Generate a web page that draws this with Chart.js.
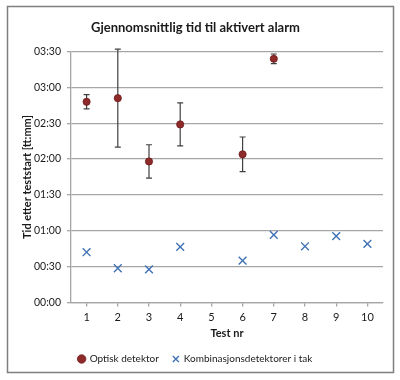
<!DOCTYPE html>
<html>
<head>
<meta charset="utf-8">
<script src="https://cdn.jsdelivr.net/npm/chart.js@4.4.1/dist/chart.umd.min.js"></script>
<style>
html,body{margin:0;padding:0;background:#fff;}
#wrap{width:400px;height:380px;position:relative;}
</style>
</head>
<body>
<div id="wrap"><canvas id="c" width="400" height="380"></canvas></div>
<script>
// Data (seconds since test start)
const categories = ['1','2','3','4','5','6','7','8','9','10'];
const optiskValues = [168, 171, 118, 149, null, 124, 204, null, null, null];
const optiskError  = [6, 41, 14, 18, null, 14.5, 4, null, null, null];
const kombiValues  = [42, 28.6, 27.7, 46.5, null, 35, 56.6, 47, 55.5, 49];
const yTicks = [0, 30, 60, 90, 120, 150, 180, 210];

const FONT = 'Lato, "Open Sans", sans-serif';

function fmt(v){
  const m = Math.floor(v/60), s = Math.round(v%60);
  return String(m).padStart(2,'0') + ':' + String(s).padStart(2,'0');
}

const errorBars = {
  id: 'errorBars',
  beforeDatasetsDraw(chart){
    const ctx = chart.ctx;
    const meta = chart.getDatasetMeta(0);
    const ys = chart.scales.y;
    ctx.save();
    ctx.strokeStyle = '#404040';
    ctx.lineWidth = 1.2;
    meta.data.forEach((pt, i) => {
      const v = optiskValues[i], e = optiskError[i];
      if (v == null || e == null) return;
      const x = pt.x;
      const yT = ys.getPixelForValue(v + e);
      const yB = ys.getPixelForValue(v - e);
      ctx.beginPath();
      ctx.moveTo(x, yT); ctx.lineTo(x, yB);
      ctx.moveTo(x-3, yT); ctx.lineTo(x+3, yT);
      ctx.moveTo(x-3, yB); ctx.lineTo(x+3, yB);
      ctx.stroke();
    });
    ctx.restore();
  }
};

const frame = {
  id: 'frame',
  afterDraw(chart){
    const ctx = chart.ctx;
    ctx.save();
    ctx.strokeStyle = '#7f7f7f';
    ctx.lineWidth = 1.5;
    ctx.strokeRect(7.5, 6.5, 386, 366);
    ctx.restore();
  }
};

new Chart(document.getElementById('c'), {
  type: 'line',
  data: {
    labels: categories,
    datasets: [
      {
        label: 'Optisk detektor',
        data: optiskValues,
        showLine: false,
        pointStyle: 'circle',
        pointRadius: 3.6,
        backgroundColor: '#8e2a2a',
        borderColor: '#6e1c1c',
        pointBorderWidth: 0.8
      },
      {
        label: 'Kombinasjonsdetektorer i tak',
        data: kombiValues,
        showLine: false,
        pointStyle: 'crossRot',
        pointRadius: 5.5,
        backgroundColor: '#3f72b5',
        borderColor: '#3f72b5',
        pointBorderWidth: 1.4
      }
    ]
  },
  options: {
    responsive: false,
    animation: false,
    devicePixelRatio: 1,
    layout: { padding: { left: 8, right: 17, top: 8, bottom: 6 } },
    plugins: {
      tooltip: { enabled: false },
      title: {
        display: true,
        text: 'Gjennomsnittlig tid til aktivert alarm',
        color: '#1a1a1a',
        font: { family: FONT, size: 13, weight: 'bold' },
        padding: { top: 12, bottom: 16 }
      },
      legend: {
        position: 'bottom',
        labels: {
          usePointStyle: true,
          boxWidth: 6,
          boxHeight: 6,
          padding: 14,
          color: '#1a1a1a',
          font: { family: FONT, size: 10 }
        }
      }
    },
    scales: {
      x: {
        offset: true,
        grid: { display: true, drawOnChartArea: false, drawTicks: true, tickLength: 4, color: '#a6a6a6', lineWidth: 1.3 },
        border: { display: true, color: '#a6a6a6', width: 1.3 },
        ticks: { color: '#1a1a1a', padding: 4, font: { family: FONT, size: 11 }, maxRotation: 0 },
        title: { display: true, text: 'Test nr', color: '#1a1a1a', padding: 0, font: { family: FONT, size: 11, weight: 'bold' } },
        afterFit(s){ s.height = 37.6; }
      },
      y: {
        min: 0, max: 210,
        afterBuildTicks(s){ s.ticks = yTicks.map(v => ({ value: v })); },
        grid: { color: '#a6a6a6', lineWidth: 1.3, drawTicks: true, tickLength: 4 },
        border: { display: true, color: '#a6a6a6', width: 1.3 },
        ticks: { color: '#1a1a1a', padding: 6, font: { family: FONT, size: 10.5 }, callback: v => fmt(v) },
        title: { display: true, text: 'Tid etter teststart [tt:mm]', color: '#1a1a1a', padding: { top: 13, bottom: 0 }, font: { family: FONT, size: 11, weight: 'bold' } },
        afterFit(s){ s.width = 63; }
      }
    }
  },
  plugins: [errorBars, frame]
});
</script>
</body>
</html>
